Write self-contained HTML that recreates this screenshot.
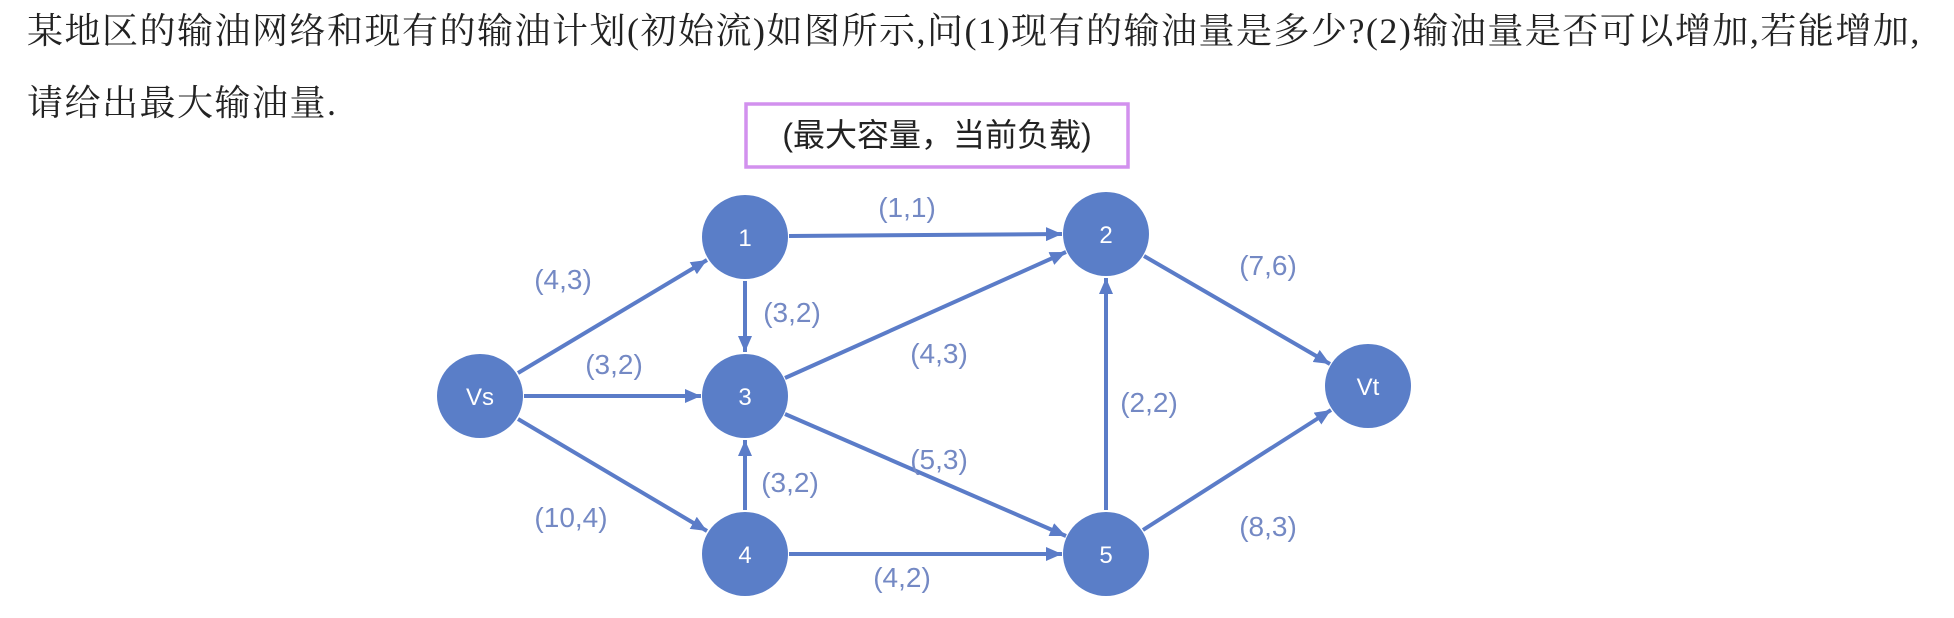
<!DOCTYPE html>
<html><head><meta charset="utf-8"><style>
html,body{margin:0;padding:0;background:#fff;width:1954px;height:618px;overflow:hidden}
.t{position:absolute;left:27px;font-family:"Liberation Serif","Noto Serif CJK SC",serif;font-size:36px;color:#222;white-space:nowrap;letter-spacing:1.5px}
</style></head><body>
<div class="t" style="top:3px">某地区的输油网络和现有的输油计划(初始流)如图所示,问(1)现有的输油量是多少?(2)输油量是否可以增加,若能增加,</div>
<div class="t" style="top:75px">请给出最大输油量.</div>
<svg width="1954" height="618" style="position:absolute;left:0;top:0">
<defs><marker id="a" markerUnits="userSpaceOnUse" markerWidth="18" markerHeight="14" refX="16" refY="7" orient="auto"><path d="M0,0 L16,7 L0,14 z" fill="#5b7cc8"/></marker></defs>
<rect x="746" y="104" width="382" height="63" fill="none" stroke="#d291ee" stroke-width="3.5"/>
<text x="937" y="146" text-anchor="middle" font-family="Liberation Sans,'Noto Sans CJK SC',sans-serif" font-size="32" fill="#222">(最大容量，当前负载)</text>
<g stroke="#5b7cc8" stroke-width="4" marker-end="url(#a)">
<line x1="518" y1="373" x2="707" y2="260"/>
<line x1="524" y1="396" x2="701" y2="396"/>
<line x1="518" y1="419" x2="707" y2="531"/>
<line x1="789" y1="236" x2="1062" y2="234"/>
<line x1="745" y1="281" x2="745" y2="352"/>
<line x1="785" y1="378" x2="1066" y2="252"/>
<line x1="785" y1="414" x2="1066" y2="536"/>
<line x1="745" y1="510" x2="745" y2="440"/>
<line x1="789" y1="554" x2="1062" y2="554"/>
<line x1="1106" y1="510" x2="1106" y2="278"/>
<line x1="1144" y1="256" x2="1330" y2="364"/>
<line x1="1143" y1="530" x2="1331" y2="410"/>
</g>
<g fill="#5a7ec8">
<ellipse cx="480" cy="396" rx="43" ry="42"/>
<ellipse cx="745" cy="237" rx="43" ry="42"/>
<ellipse cx="745" cy="396" rx="43" ry="42"/>
<ellipse cx="745" cy="554" rx="43" ry="42"/>
<ellipse cx="1106" cy="234" rx="43" ry="42"/>
<ellipse cx="1106" cy="554" rx="43" ry="42"/>
<ellipse cx="1368" cy="386" rx="43" ry="42"/>
</g>
<g fill="#fff" font-family="Liberation Sans,sans-serif" font-size="24" text-anchor="middle">
<text x="480" y="405">Vs</text><text x="745" y="246">1</text><text x="745" y="405">3</text><text x="745" y="563">4</text>
<text x="1106" y="243">2</text><text x="1106" y="563">5</text><text x="1368" y="395">Vt</text>
</g>
<g fill="#7489c4" font-family="Liberation Sans,sans-serif" font-size="28" text-anchor="middle">
<text x="907" y="217">(1,1)</text>
<text x="563" y="289">(4,3)</text>
<text x="792" y="322">(3,2)</text>
<text x="614" y="374">(3,2)</text>
<text x="939" y="363">(4,3)</text>
<text x="1149" y="412">(2,2)</text>
<text x="939" y="469">(5,3)</text>
<text x="790" y="492">(3,2)</text>
<text x="571" y="527">(10,4)</text>
<text x="902" y="587">(4,2)</text>
<text x="1268" y="275">(7,6)</text>
<text x="1268" y="536">(8,3)</text>
</g>
</svg>
</body></html>
